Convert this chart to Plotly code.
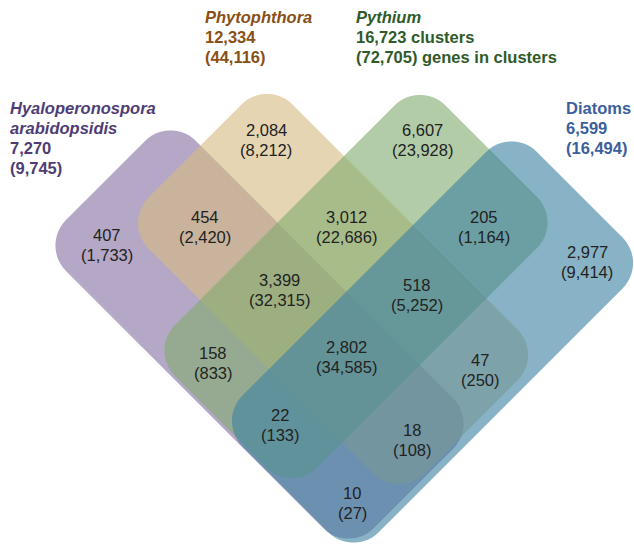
import numpy as np
import plotly.graph_objects as go

# ---------------- data ----------------
set_keys = ["A", "B", "C", "D"]
set_names = ["Hyaloperonospora|arabidopsidis", "Phytophthora", "Pythium", "Diatoms"]
set_clusters = [7270, 12334, 16723, 6599]
set_genes = [9745, 44116, 72705, 16494]

region_sets = ["A", "B", "C", "D", "AB", "BC", "CD", "AC", "BD",
               "ABC", "BCD", "ACD", "ABD", "ABCD", "AD"]
region_clusters = [407, 2084, 6607, 2977, 454, 3012, 205, 158, 47,
                   3399, 518, 22, 18, 2802, 10]
region_genes = [1733, 8212, 23928, 9414, 2420, 22686, 1164, 833, 250,
                32315, 5252, 133, 108, 34585, 27]

# ---------------- layout / geometry (pixel space) ----------------
W, H = 634, 548
# each set: rounded rectangle rotated 45 deg, bounds in s=(y-x), t=(x+y)
shape_bounds = {
    "A": (-55, 205, 286, 902),
    "B": (-188, 100, 346, 898),
    "C": (-340, 201, 500, 785),
    "D": (-385, 204, 638, 911),
}
corner_r = 36
alpha = 0.62
fill_rgb = {
    "A": (135, 113, 163),
    "B": (213, 187, 130),
    "C": (130, 172, 113),
    "D": (63, 130, 163),
}
label_pos = {
    "A": (107, 245), "B": (266, 140), "C": (422, 140), "D": (587, 262),
    "AB": (205, 227), "BC": (346, 227), "CD": (484, 227),
    "AC": (213, 363), "BD": (480, 370),
    "ABC": (279, 290), "BCD": (417, 295), "ACD": (280, 425), "ABD": (412, 440),
    "ABCD": (346, 357), "AD": (352, 503),
}
line_gap = 20
title_pos = {"A": (9, 108), "B": (204, 17), "C": (355, 17), "D": (565, 108)}
title_color = {"A": "#4e3d74", "B": "#8a4f16", "C": "#2f5a2a", "D": "#3b5f9e"}
title_italic = {"A": True, "B": True, "C": True, "D": False}
FONT = "Liberation Sans, Arial, sans-serif"
FS = 16.5


def rounded_rect_path(s1, s2, t1, t2, r, n=14):
    # work in orthonormal rotated frame u=t/sqrt2, v=s/sqrt2
    k = np.sqrt(2)
    u1, u2, v1, v2 = t1 / k, t2 / k, s1 / k, s2 / k
    corners = [
        (u2 - r, v1 + r, -np.pi / 2, 0),
        (u2 - r, v2 - r, 0, np.pi / 2),
        (u1 + r, v2 - r, np.pi / 2, np.pi),
        (u1 + r, v1 + r, np.pi, 1.5 * np.pi),
    ]
    pts = []
    for cu, cv, a0, a1 in corners:
        for a in np.linspace(a0, a1, n):
            u = cu + r * np.cos(a)
            v = cv + r * np.sin(a)
            pts.append(((u - v) / k, (u + v) / k))
    return "M " + " L ".join(f"{x:.2f},{y:.2f}" for x, y in pts) + " Z"


fig = go.Figure()
fig.add_trace(go.Scatter(x=[0, W], y=[0, H], mode="markers",
                         marker=dict(opacity=0), hoverinfo="skip", showlegend=False))

shapes = []
for key in set_keys:
    s1, s2, t1, t2 = shape_bounds[key]
    r, g, b = fill_rgb[key]
    shapes.append(dict(
        type="path", xref="x", yref="y",
        path=rounded_rect_path(s1, s2, t1, t2, corner_r),
        fillcolor=f"rgba({r},{g},{b},{alpha})",
        line=dict(width=0), layer="above",
    ))

annotations = []


def add_text(x, y, text, color, anchor="center", size=FS):
    annotations.append(dict(
        x=x, y=y, xref="x", yref="y", showarrow=False, text=text,
        font=dict(family=FONT, size=size, color=color),
        xanchor=anchor, yanchor="middle", borderpad=0,
    ))


for key, nc, ng in zip(region_sets, region_clusters, region_genes):
    x, y = label_pos[key]
    add_text(x, y - line_gap / 2, f"{nc:,}", "#222222")
    add_text(x, y + line_gap / 2, f"({ng:,})", "#222222")

for key, name, nc, ng in zip(set_keys, set_names, set_clusters, set_genes):
    x, y = title_pos[key]
    lines = []
    for part in name.split("|"):
        lines.append(f"<b><i>{part}</i></b>" if title_italic[key] else f"<b>{part}</b>")
    if key == "C":
        lines += [f"<b>{nc:,} clusters</b>", f"<b>({ng:,}) genes in clusters</b>"]
    else:
        lines += [f"<b>{nc:,}</b>", f"<b>({ng:,})</b>"]
    for i, ln in enumerate(lines):
        add_text(x, y + i * line_gap, ln, title_color[key], anchor="left")

fig.update_layout(
    width=W, height=H,
    margin=dict(l=0, r=0, t=0, b=0),
    paper_bgcolor="white", plot_bgcolor="white",
    xaxis=dict(range=[0, W], visible=False, fixedrange=True),
    yaxis=dict(range=[H, 0], visible=False, fixedrange=True),
    shapes=shapes, annotations=annotations,
    showlegend=False, hovermode=False,
)

fig.write_html("out.html", config={"displayModeBar": False, "staticPlot": True},
               post_script="document.body.style.margin='0px';document.body.style.padding='0px';")
